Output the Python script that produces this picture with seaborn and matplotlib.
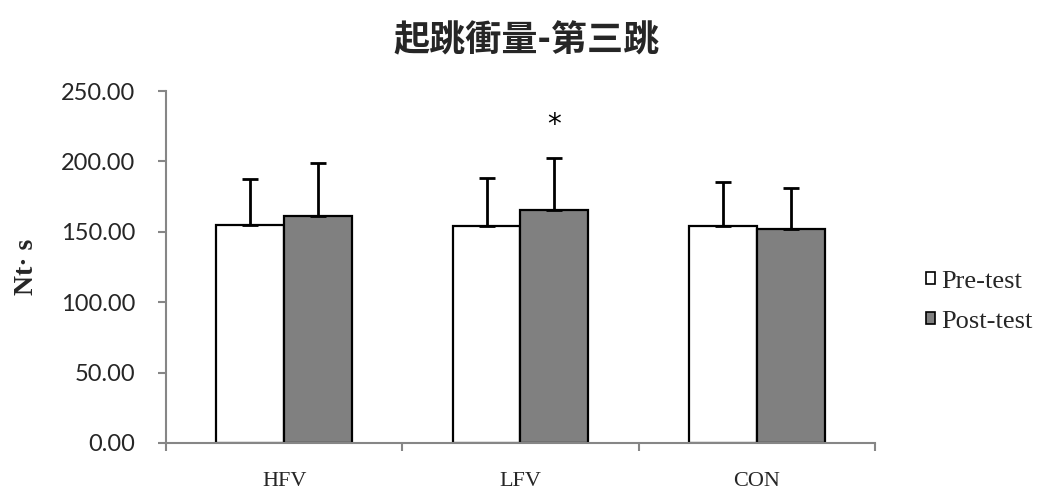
import numpy as np
import pandas as pd
import matplotlib
matplotlib.use("Agg")
import matplotlib.pyplot as plt
from matplotlib.ticker import FixedLocator, FormatStrFormatter
from matplotlib.patches import Patch
import seaborn as sns

groups = ["HFV", "LFV", "CON"]
phases = ["Pre-test", "Post-test"]
pre_mean = [154.8, 153.9, 154.1]
post_mean = [161.4, 165.5, 152.2]
pre_sd = [32.7, 34.3, 31.3]
post_sd = [37.7, 37.2, 28.7]
title = "起跳衝量-第三跳"
ylabel = "Nt· s"
yticks = [0, 50, 100, 150, 200, 250]

df = pd.DataFrame({
    "group": groups * 2,
    "phase": [phases[0]] * 3 + [phases[1]] * 3,
    "mean": pre_mean + post_mean,
    "sd": pre_sd + post_sd,
})

sns.set_theme(style="white")
plt.rcParams["font.family"] = ["Lato", "DejaVu Sans"]

fig = plt.figure(figsize=(10.58, 4.97), dpi=100)
ax = fig.add_axes([0.1569, 0.1087, 0.6701, 0.7082])

palette = {phases[0]: "#ffffff", phases[1]: "#808080"}
sns.barplot(data=df, x="group", y="mean", hue="phase", order=groups,
            hue_order=phases, palette=palette, width=0.573, gap=0,
            edgecolor="black", linewidth=1.6, errorbar=None, legend=False,
            ax=ax, saturation=1)

# upward-only error bars placed at each bar's centre
bars = [p for p in ax.patches]
xs, ys, es = [], [], []
for i, ph in enumerate(phases):
    sub = df[df["phase"] == ph].set_index("group").loc[groups]
    for j, g in enumerate(groups):
        b = bars[i * len(groups) + j]
        xs.append(b.get_x() + b.get_width() / 2)
        ys.append(sub.loc[g, "mean"])
        es.append(sub.loc[g, "sd"])
ax.errorbar(xs, ys, yerr=[np.zeros(len(es)), es], fmt="none",
            ecolor="black", elinewidth=2, capsize=6, capthick=2, zorder=3)

# significance marker over LFV post-test
k = len(groups) + groups.index("LFV")
ax.text(xs[k], 226, "*", ha="center", va="center", fontsize=20,
        color="black", family="DejaVu Sans")

ax.set_xlim(-0.5, 2.5)
ax.set_ylim(0, 250)
ax.yaxis.set_major_locator(FixedLocator(yticks))
ax.yaxis.set_major_formatter(FormatStrFormatter("%.2f"))
ax.set_xticks([0, 1, 2])
ax.set_xticklabels(groups, family=["Liberation Serif"], fontsize=16)
ax.xaxis.set_minor_locator(FixedLocator([-0.5, 0.5, 1.5, 2.5]))
ax.tick_params(axis="x", which="major", length=0, pad=21)
ax.tick_params(axis="x", which="minor", length=6, width=1.5,
               color="#868686", direction="out", bottom=True)
ax.tick_params(axis="y", length=6, width=1.5, color="#868686",
               direction="out", left=True, labelsize=17, pad=16)

for side in ["top", "right"]:
    ax.spines[side].set_visible(False)
for side in ["left", "bottom"]:
    ax.spines[side].set_color("#868686")
    ax.spines[side].set_linewidth(1.5)

ax.set_xlabel("")
ax.set_ylabel(ylabel, family=["Liberation Serif"], fontweight="bold",
              fontsize=20, labelpad=16)

fig.suptitle(title, x=0.498, y=0.955, fontsize=26, fontweight="bold",
             family=["Noto Sans CJK TC", "DejaVu Sans"])

handles = [Patch(facecolor=palette[p], edgecolor="black", linewidth=1.2)
           for p in phases]
fig.legend(handles, phases, loc="center left",
           bbox_to_anchor=(0.853, 0.393), frameon=False,
           prop={"family": "Liberation Serif", "size": 19},
           handlelength=0.32, handleheight=0.32, handletextpad=0.25,
           labelspacing=0.68)

fig.savefig("out.png", dpi=100, facecolor="white")
